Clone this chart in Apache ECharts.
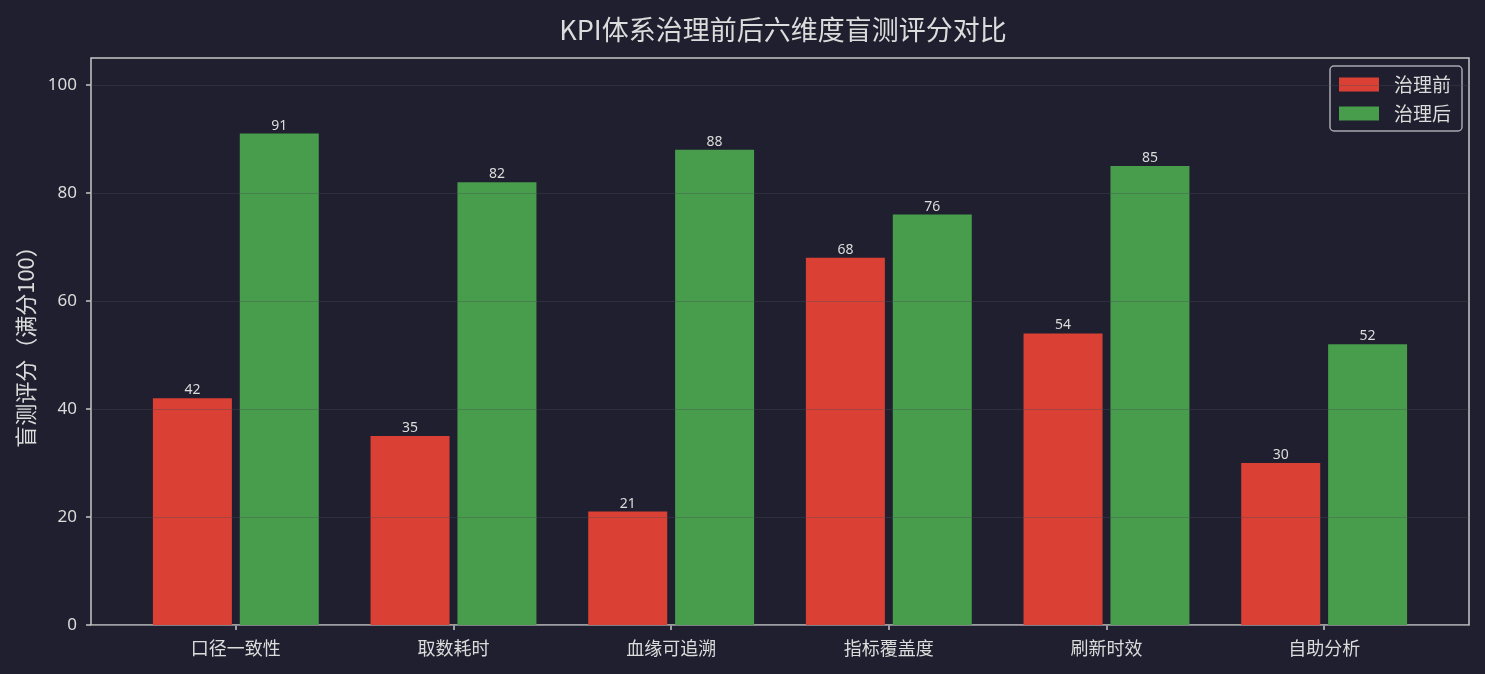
<!DOCTYPE html>
<html>
<head>
<meta charset="utf-8">
<script src="https://cdn.jsdelivr.net/npm/echarts@6/dist/echarts.min.js"></script>
<style>
  html, body { margin: 0; padding: 0; background: #1f1f2f; }
  #chart { width: 1485px; height: 674px; }
</style>
</head>
<body>
<div id="chart"></div>
<script>
// 六个维度
var categories = ['口径一致性', '取数耗时', '血缘可追溯', '指标覆盖度', '刷新时效', '自助分析'];
var beforeScores = [42, 35, 21, 68, 54, 30];
var afterScores = [91, 82, 88, 76, 85, 52];
var yTicks = [0, 20, 40, 60, 80, 100];

var textColor = '#dcdcdc';
var axisColor = '#c8c8c8';
var cjkFont = '"Noto Sans CJK SC", "Noto Sans", sans-serif';

var chart = echarts.init(document.getElementById('chart'));

var labelStyle = {
  show: true,
  position: 'top',
  distance: 1,
  color: textColor,
  fontSize: 14,
  fontFamily: '"Noto Sans", sans-serif'
};

var option = {
  backgroundColor: '#1f1f2f',
  animation: false,
  title: {
    text: 'KPI体系治理前后六维度盲测评分对比',
    left: 778,
    textAlign: 'center',
    top: 11,
    textStyle: { color: textColor, fontSize: 27, fontWeight: 'normal', fontFamily: cjkFont }
  },
  legend: {
    orient: 'vertical',
    right: 23,
    top: 66,
    padding: [9, 11, 8, 9],
    itemWidth: 40,
    itemHeight: 14,
    itemGap: 10,
    borderColor: '#a8a8b0',
    borderWidth: 1.5,
    borderRadius: 4,
    backgroundColor: 'rgba(31,31,47,0.8)',
    icon: 'rect',
    textStyle: { color: textColor, fontSize: 19, lineHeight: 18, fontFamily: cjkFont, padding: [0, 0, 0, 10] },
    data: ['治理前', '治理后']
  },
  grid: [
    { left: 91, right: 16, top: 58, bottom: 49, show: true, borderColor: axisColor, borderWidth: 1.5, backgroundColor: 'transparent' },
    { left: 127, right: 52, top: 58, bottom: 49 }
  ],
  xAxis: [
    {
      gridIndex: 0, type: 'value', min: 0, max: 1,
      axisLine: { show: false }, axisTick: { show: false }, axisLabel: { show: false }, splitLine: { show: false }
    },
    {
      gridIndex: 1, type: 'category', data: categories,
      axisLine: { show: false },
      axisTick: { show: true, alignWithLabel: true, length: 5, lineStyle: { color: axisColor, width: 1.5 } },
      axisLabel: { color: textColor, fontSize: 18, margin: 14, fontFamily: cjkFont }
    }
  ],
  yAxis: [
    {
      gridIndex: 0, type: 'value', min: 0, max: 105, z: 5,
      name: '盲测评分（满分100）',
      nameLocation: 'middle',
      nameGap: 52,
      nameTextStyle: { color: textColor, fontSize: 22, fontFamily: cjkFont },
      axisLine: { show: false },
      axisTick: { show: true, length: 5, customValues: yTicks, lineStyle: { color: axisColor, width: 1.5 } },
      axisLabel: { color: textColor, fontSize: 17, margin: 14, customValues: yTicks, fontFamily: '"Noto Sans", sans-serif' },
      splitLine: { show: true, lineStyle: { color: 'rgba(75,75,90,0.35)', width: 1.2 } }
    },
    {
      gridIndex: 1, type: 'value', min: 0, max: 105, show: false, splitLine: { show: false }
    }
  ],
  series: [
    {
      name: '治理前', type: 'bar', xAxisIndex: 1, yAxisIndex: 1,
      data: beforeScores, barWidth: 79, barGap: '10%',
      itemStyle: { color: '#db4035' },
      label: labelStyle
    },
    {
      name: '治理后', type: 'bar', xAxisIndex: 1, yAxisIndex: 1,
      data: afterScores, barWidth: 79, barGap: '10%',
      itemStyle: { color: '#479d4b' },
      label: labelStyle
    }
  ]
};

chart.setOption(option);
</script>
</body>
</html>
